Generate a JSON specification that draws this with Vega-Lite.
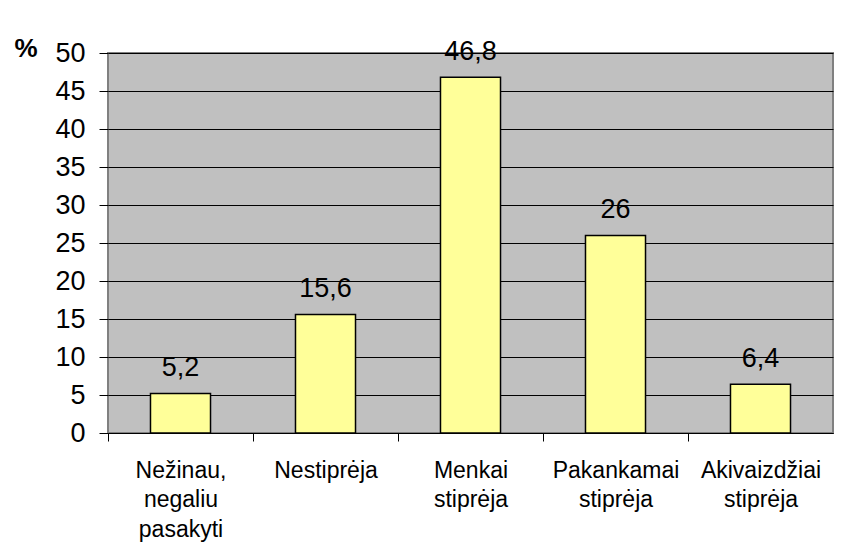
{
  "$schema": "https://vega.github.io/schema/vega-lite/v6.json",
  "width": 725,
  "height": 380,
  "autosize": "none",
  "padding": {"left": 108, "top": 53, "right": 30, "bottom": 127},
  "background": "white",
  "config": {
    "font": "Liberation Sans",
    "view": {"fill": "#c0c0c0", "stroke": "#808080", "strokeWidth": 2}
  },
  "data": {
    "values": [
      {"kategorija": "Nežinau, negaliu pasakyti", "procentai": 5.2, "etikete": "5,2"},
      {"kategorija": "Nestiprėja", "procentai": 15.6, "etikete": "15,6"},
      {"kategorija": "Menkai stiprėja", "procentai": 46.8, "etikete": "46,8"},
      {"kategorija": "Pakankamai stiprėja", "procentai": 26, "etikete": "26"},
      {"kategorija": "Akivaizdžiai stiprėja", "procentai": 6.4, "etikete": "6,4"}
    ]
  },
  "encoding": {
    "x": {
      "field": "kategorija",
      "type": "nominal",
      "sort": null,
      "scale": {"paddingInner": 0.586, "paddingOuter": 0.293},
      "axis": {
        "title": null,
        "labelAngle": 0,
        "bandPosition": 0.5,
        "tickOffset": -72.5,
        "labelOffset": 72.5,
        "tickSize": 8,
        "tickColor": "black",
        "tickWidth": 1,
        "domainColor": "black",
        "domainWidth": 1,
        "labelFont": "Liberation Sans",
        "labelFontSize": 23,
        "labelColor": "black",
        "labelPadding": 18,
        "labelLineHeight": 29.5,
        "labelExpr": "datum.value == 'Nežinau, negaliu pasakyti' ? ['Nežinau,', 'negaliu', 'pasakyti'] : datum.value == 'Menkai stiprėja' ? ['Menkai', 'stiprėja'] : datum.value == 'Pakankamai stiprėja' ? ['Pakankamai', 'stiprėja'] : datum.value == 'Akivaizdžiai stiprėja' ? ['Akivaizdžiai', 'stiprėja'] : datum.value"
      }
    },
    "y": {
      "field": "procentai",
      "type": "quantitative",
      "scale": {"domain": [0, 50], "nice": false},
      "axis": {
        "title": "%",
        "titleAngle": 0,
        "titleX": -94,
        "titleY": 3,
        "titleAlign": "left",
        "titleBaseline": "alphabetic",
        "titleFont": "Liberation Sans",
        "titleFontSize": 26,
        "titleFontWeight": "bold",
        "titleColor": "black",
        "values": [0, 5, 10, 15, 20, 25, 30, 35, 40, 45, 50],
        "domain": false,
        "grid": true,
        "gridColor": "black",
        "gridWidth": 1,
        "gridOpacity": 1,
        "tickSize": 9,
        "tickColor": "black",
        "tickWidth": 1,
        "labelFont": "Liberation Sans",
        "labelFontSize": 27,
        "labelColor": "black",
        "labelPadding": 14
      }
    }
  },
  "layer": [
    {
      "mark": {"type": "bar", "fill": "#ffff99", "stroke": "black", "strokeWidth": 1.5}
    },
    {
      "mark": {"type": "text", "baseline": "alphabetic", "dy": -17, "fontSize": 27, "font": "Liberation Sans", "color": "black"},
      "encoding": {"text": {"field": "etikete"}}
    }
  ]
}
